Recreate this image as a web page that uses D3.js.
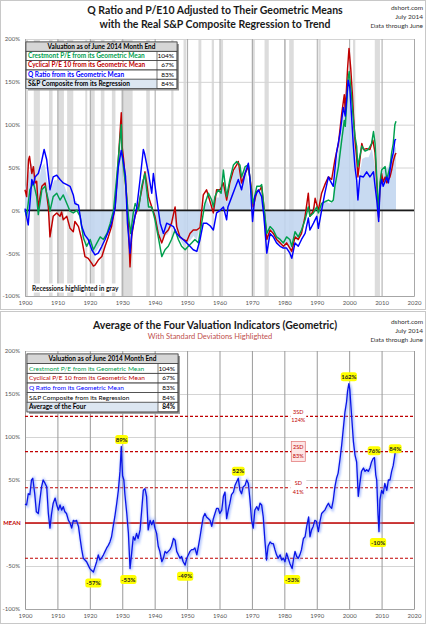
<!DOCTYPE html>
<html>
<head>
<meta charset="utf-8">
<script src="https://cdn.jsdelivr.net/npm/d3@7"></script>
<style>
  body { margin: 0; background: #fff; }
  svg { display: block; font-family: Lato, "Open Sans", sans-serif; }
</style>
</head>
<body>
<svg id="chart" width="430" height="625"></svg>
<script>
// ---- data ----
const xTicks = [1900, 1910, 1920, 1930, 1940, 1950, 1960, 1970, 1980, 1990, 2000, 2010, 2020];
const yTicks = [-100, -50, 0, 50, 100, 150, 200];

const recessions = [[1899.5,1900.9],[1902.7,1904.6],[1907.4,1908.5],[1910.0,1912.0],[1913.0,1914.9],
  [1918.6,1919.2],[1920.0,1921.5],[1923.4,1924.5],[1926.8,1927.9],[1929.6,1933.2],[1937.4,1938.5],
  [1945.1,1945.8],[1948.9,1949.8],[1953.5,1954.4],[1957.6,1958.3],[1960.3,1961.1],[1969.9,1970.9],
  [1973.9,1975.2],[1980.0,1980.5],[1981.5,1982.9],[1990.5,1991.2],[2001.2,2001.9],[2007.9,2009.5]];

// S&P Composite from its regression (light blue area)
const spRegression = [[1900,25],[1901,40],[1902,55],[1903,45],[1904,25],[1905,50],[1906,55],[1907,30],[1908,25],
  [1909,35],[1910,35],[1911,32],[1912,30],[1913,20],[1914,12],[1915,12],[1916,10],[1917,-10],[1918,-35],[1919,-30],
  [1920,-45],[1921,-52],[1922,-48],[1923,-42],[1924,-38],[1925,-30],[1926,-22],[1927,-8],[1928,25],[1929,60],
  [1929.7,80],[1930,45],[1931,10],[1932,-30],[1932.4,-45],[1933,-25],[1934,-5],[1935,10],[1936,35],[1937,40],
  [1938,0],[1939,5],[1940,-10],[1941,-25],[1942,-40],[1943,-30],[1944,-28],[1945,-20],[1946,-10],[1947,-30],
  [1948,-35],[1949,-42],[1950,-38],[1951,-35],[1952,-30],[1953,-35],[1954,-15],[1955,5],[1956,12],[1957,5],
  [1958,0],[1959,15],[1960,15],[1961,35],[1962,10],[1963,25],[1964,40],[1965,50],[1966,50],[1967,40],[1968,50],
  [1969,30],[1970,0],[1971,20],[1972,25],[1973,20],[1974,-30],[1975,-25],[1976,-25],[1977,-32],[1978,-38],
  [1979,-40],[1980,-38],[1981,-42],[1982,-48],[1983,-32],[1984,-36],[1985,-28],[1986,-12],[1987,5],[1988,-3],
  [1989,5],[1990,0],[1991,5],[1992,8],[1993,10],[1994,8],[1995,10],[1995.2,25],[1996,50],[1997,80],[1998,110],
  [1999,135],[2000,145],[2001,100],[2002,65],[2002.7,20],[2003,35],[2004,60],[2005,62],[2006,62],[2007,72],
  [2008,50],[2009,0],[2010,45],[2011,48],[2012,50],[2013,62],[2014.45,75]];

// Cyclical P/E10 (red)
const pe10 = [[1900.0,24],[1900.5,16],[1901.1,59],[1901.4,63],[1902.1,43],[1902.6,51],[1903.1,32],[1903.6,34],
  [1904.1,2],[1904.6,15],[1905.2,28],[1906.2,32],[1907.2,4],[1907.7,-31],[1908.7,-7],[1909.8,-3],[1910.8,-7],
  [1911.3,-2],[1911.8,-11],[1912.9,-7],[1913.9,-21],[1914.9,-25],[1915.4,-13],[1916.5,-19],[1917.5,-34],
  [1918.5,-54],[1919.5,-56],[1920.6,-62],[1921.1,-65],[1921.6,-64],[1922.6,-58],[1923.7,-54],[1924.7,-42],
  [1925.7,-31],[1926.7,-19],[1927.8,4],[1928.8,59],[1929.7,114],[1929.95,75],[1930.4,60],[1931.2,24],[1931.9,-19],
  [1932.4,-66],[1932.9,-30],[1933.9,-7],[1935.0,4],[1936.0,24],[1937.0,45],[1937.6,30],[1938.1,16],[1939.1,4],
  [1940.1,-7],[1941.1,-27],[1942.2,-38],[1943.2,-27],[1944.2,-23],[1945.2,-15],[1946.3,4],[1946.8,-19],
  [1947.8,-31],[1948.8,-34],[1949.9,-36],[1950.9,-27],[1951.9,-23],[1953.0,-23],[1954.0,-20],[1955.0,18],
  [1956.0,24],[1957.1,10],[1958.1,-3],[1959.1,24],[1960.2,24],[1961.2,32],[1962.2,12],[1963.2,32],[1964.3,47],
  [1965.3,53],[1965.8,57],[1966.8,32],[1967.9,43],[1968.9,51],[1969.9,24],[1970.4,4],[1971.5,22],[1972.5,24],
  [1973.0,28],[1973.7,4],[1974.6,-34],[1975.6,-23],[1976.6,-27],[1977.6,-34],[1978.7,-38],[1979.7,-42],
  [1980.7,-38],[1981.7,-44],[1982.3,-48],[1983.3,-31],[1984.3,-34],[1985.3,-27],[1986.4,-7],[1987.4,20],
  [1987.9,-7],[1989.0,0],[1989.5,14],[1990.5,0],[1991.5,20],[1992.5,30],[1993.6,39],[1994.6,36],[1995.6,59],
  [1996.7,78],[1997.7,113],[1998.5,135],[1998.8,115],[1999.5,165],[1999.95,189],[2000.5,165],[2001.0,135],
  [2001.3,113],[2001.8,82],[2002.3,62],[2002.7,39],[2003.3,59],[2003.9,78],[2004.4,71],[2005.4,72],[2006.4,71],
  [2007.3,82],[2008.0,67],[2008.5,32],[2009.1,-8],[2009.5,28],[2010.0,43],[2010.5,33],[2011.1,39],[2011.6,32],
  [2012.6,39],[2013.1,47],[2013.6,57],[2014.1,64],[2014.45,67]];

// Crestmont P/E (green)
const crestmont = [[1900.0,0],[1900.5,-7],[1901.5,24],[1902.6,32],[1903.6,16],[1904.1,-5],[1905.2,24],[1906.2,28],
  [1907.2,12],[1907.7,-1],[1908.7,16],[1909.8,20],[1910.8,12],[1911.8,18],[1912.9,8],[1913.9,-1],[1914.9,-3],
  [1916.0,0],[1917.0,-7],[1918.0,-32],[1919.0,-42],[1920.1,-34],[1921.1,-46],[1922.2,-38],[1923.2,-31],
  [1924.2,-34],[1925.3,-27],[1926.3,-15],[1927.3,0],[1928.3,39],[1929.7,100],[1929.95,65],[1930.4,50],
  [1931.2,24],[1931.9,-7],[1932.6,-27],[1933.4,-3],[1934.0,8],[1935.0,0],[1936.0,28],[1937.0,43],[1938.1,4],
  [1939.1,4],[1940.1,-11],[1941.1,-31],[1942.2,-54],[1943.2,-46],[1944.2,-42],[1945.2,-34],[1946.3,-23],
  [1947.3,-34],[1948.3,-42],[1949.4,-46],[1950.4,-42],[1951.4,-38],[1952.4,-34],[1953.5,-38],[1954.5,-15],
  [1955.5,8],[1956.6,20],[1957.6,12],[1958.1,4],[1958.6,16],[1959.6,24],[1960.5,20],[1961.2,47],[1962.2,16],
  [1963.2,36],[1964.3,53],[1965.3,57],[1966.3,53],[1966.8,39],[1967.9,51],[1968.9,53],[1969.9,20],[1970.4,8],
  [1971.5,28],[1972.5,28],[1973.0,30],[1973.7,4],[1974.6,-27],[1975.6,-19],[1976.6,-23],[1977.6,-31],
  [1978.7,-34],[1979.7,-38],[1980.7,-31],[1981.7,-34],[1982.3,-42],[1983.3,-25],[1984.3,-31],[1985.3,-23],
  [1986.4,-11],[1987.4,4],[1987.9,-7],[1989.0,-3],[1990.0,4],[1990.5,-3],[1991.5,8],[1992.5,10],[1993.6,12],
  [1994.6,10],[1995.1,12],[1995.6,28],[1996.7,51],[1997.7,82],[1998.5,105],[1998.8,98],[1999.7,154],[2000.0,162],
  [2000.6,139],[2001.3,106],[2001.8,86],[2002.3,75],[2002.7,51],[2003.3,63],[2003.9,75],[2004.9,69],[2005.9,71],
  [2006.9,78],[2007.5,92],[2008.0,78],[2008.5,39],[2009.1,-3],[2009.5,32],[2010.0,47],[2011.1,51],[2011.6,36],
  [2012.6,51],[2013.1,67],[2013.6,78],[2014.1,100],[2014.45,104]];

// Q Ratio (blue)
const qRatio = [[1900.0,2],[1901.0,-17],[1902.1,36],[1902.6,30],[1903.1,39],[1904.1,43],[1905.0,55],[1905.9,71],
  [1906.7,59],[1907.7,24],[1908.7,39],[1909.8,41],[1910.8,36],[1911.8,32],[1912.9,30],[1913.9,28],[1914.9,18],
  [1915.4,8],[1916.5,6],[1917.5,-19],[1918.5,-29],[1919.5,-34],[1920.6,-46],[1921.6,-52],[1922.6,-50],
  [1923.7,-42],[1924.7,-34],[1925.7,-25],[1926.7,-15],[1927.8,3],[1928.8,51],[1929.7,70],[1930.3,58],
  [1931.0,40],[1931.6,-15],[1932.4,-50],[1933.0,-25],[1934.5,4],[1935.5,36],[1936.5,71],[1936.9,66],[1938.1,43],
  [1939.1,20],[1939.6,43],[1940.7,12],[1941.7,-15],[1942.7,-27],[1943.7,-15],[1944.8,-17],[1945.8,-19],
  [1946.8,-27],[1947.8,-31],[1948.8,-34],[1949.9,-38],[1950.9,-42],[1951.9,-46],[1953.0,-48],[1954.0,-34],
  [1955.0,-15],[1956.0,-15],[1957.1,-18],[1958.1,-23],[1959.1,-3],[1960.2,0],[1961.2,4],[1962.2,-11],[1962.6,4],
  [1963.8,16],[1964.8,26],[1965.8,36],[1966.8,24],[1967.9,43],[1968.9,55],[1969.4,36],[1970.2,-13],[1970.9,16],
  [1972.0,24],[1973.0,16],[1973.7,-7],[1974.6,-50],[1975.6,-27],[1976.6,-31],[1977.6,-38],[1978.7,-42],
  [1979.7,-44],[1980.7,-44],[1981.7,-50],[1982.3,-56],[1983.3,-38],[1984.3,-42],[1985.3,-34],[1986.4,-27],
  [1987.4,-9],[1987.9,-23],[1989.0,-15],[1990.0,-7],[1990.5,-21],[1991.5,0],[1992.5,20],[1993.6,39],[1994.1,35],
  [1995.1,28],[1996.1,67],[1997.2,90],[1998.2,120],[1998.8,110],[1999.7,152],[2000.2,143],[2000.8,106],
  [2001.3,75],[2001.8,50],[2002.3,36],[2002.7,12],[2003.3,40],[2004.4,39],[2005.4,45],[2006.4,39],[2007.5,45],
  [2008.0,28],[2008.5,12],[2009.1,-13],[2009.5,24],[2010.0,36],[2010.5,28],[2011.6,39],[2012.1,32],[2012.6,47],
  [2013.1,59],[2013.6,67],[2014.1,82],[2014.45,83]];

// Average of the four (bottom chart)
const average = [[1900.0,22],[1900.5,21],[1901.0,34],[1901.5,33],[1902.0,50],[1902.4,52],[1903.0,34],[1903.5,13],
  [1904.1,11],[1904.6,27],[1905.1,42],[1905.6,50],[1906.2,46],[1906.7,42],[1907.2,11],[1907.7,-6],[1908.2,11],
  [1908.7,23],[1909.3,29],[1909.8,21],[1910.3,15],[1910.8,21],[1911.3,15],[1911.8,19],[1912.3,13],[1912.8,11],
  [1913.4,3],[1913.9,0],[1914.4,-6],[1914.9,3],[1915.4,2],[1915.9,3],[1916.5,-4],[1917.0,-18],[1917.5,-31],
  [1918.0,-41],[1918.5,-43],[1919.0,-45],[1919.5,-49],[1920.0,-53],[1920.5,-55],[1921.1,-57],[1921.6,-51],
  [1922.1,-45],[1922.6,-37],[1923.1,-43],[1923.6,-41],[1924.2,-37],[1924.7,-33],[1925.2,-29],[1925.7,-26],
  [1926.2,-22],[1926.7,-16],[1927.2,-4],[1927.7,7],[1928.3,23],[1928.8,38],[1929.3,60],[1929.7,89],[1929.9,70],
  [1930.1,55],[1930.5,50],[1930.8,34],[1931.4,11],[1931.9,-12],[1932.4,-53],[1932.9,-35],[1933.4,-16],
  [1933.9,-20],[1934.4,-12],[1934.9,-18],[1935.5,-8],[1936.0,15],[1936.5,38],[1937.0,40],[1937.5,31],
  [1938.0,-8],[1938.6,3],[1939.1,-2],[1939.6,3],[1940.1,-6],[1940.6,-12],[1941.1,-27],[1941.6,-33],[1942.2,-45],
  [1942.7,-41],[1943.2,-33],[1943.7,-35],[1944.2,-33],[1944.7,-31],[1945.2,-27],[1945.8,-18],[1946.3,-20],
  [1946.8,-33],[1947.3,-37],[1947.8,-41],[1948.3,-39],[1948.8,-45],[1949.4,-49],[1949.9,-41],[1950.4,-37],
  [1950.9,-33],[1951.4,-31],[1951.9,-31],[1952.4,-29],[1953.0,-37],[1953.5,-27],[1954.0,-16],[1954.5,-4],
  [1955.0,7],[1955.5,11],[1956.0,7],[1956.6,5],[1957.1,3],[1957.6,-4],[1958.1,5],[1958.6,11],[1959.1,17],
  [1959.6,17],[1960.1,11],[1960.7,15],[1961.2,31],[1961.7,36],[1962.2,5],[1962.7,15],[1963.2,23],[1963.7,33],
  [1964.3,36],[1964.8,44],[1965.3,48],[1965.8,52],[1966.3,38],[1966.8,34],[1967.3,42],[1967.9,44],[1968.4,50],
  [1968.9,46],[1969.4,27],[1969.9,3],[1970.4,-6],[1970.9,15],[1971.5,19],[1972.0,15],[1972.5,23],[1973.0,21],
  [1973.5,7],[1974.0,-20],[1974.5,-43],[1975.0,-27],[1975.6,-22],[1976.1,-24],[1976.6,-24],[1977.1,-31],
  [1977.6,-37],[1978.1,-41],[1978.7,-37],[1979.2,-43],[1979.7,-41],[1980.2,-45],[1980.7,-35],[1981.2,-41],
  [1981.7,-47],[1982.4,-53],[1982.8,-43],[1983.3,-33],[1983.8,-39],[1984.3,-41],[1984.8,-37],[1985.3,-31],
  [1985.9,-18],[1986.4,-16],[1986.9,-4],[1987.5,7],[1987.9,-16],[1988.4,-8],[1988.9,-4],[1989.4,3],[1989.9,2],
  [1990.5,-10],[1991.0,2],[1991.5,11],[1992.0,13],[1992.5,15],[1993.0,19],[1993.6,23],[1994.1,19],[1994.6,17],
  [1995.1,27],[1995.6,42],[1996.1,52],[1996.6,58],[1997.2,75],[1997.7,91],[1998.2,110],[1998.7,129],
  [1999.2,141],[1999.5,153],[1999.9,162],[2000.2,155],[2000.8,122],[2001.3,95],[2001.8,79],[2002.3,71],
  [2002.6,48],[2002.8,31],[2003.3,46],[2003.8,60],[2004.4,64],[2004.9,60],[2005.4,62],[2005.9,60],[2006.4,64],
  [2006.9,71],[2007.4,75],[2007.8,76],[2008.2,56],[2008.5,50],[2008.9,10],[2009.2,-10],[2009.5,27],[2010.0,38],
  [2010.5,34],[2011.0,46],[2011.6,38],[2012.1,50],[2012.6,50],[2013.1,60],[2013.6,67],[2014.2,82],[2014.45,84]];

const tableLabels = ["Crestmont P/E from its Geometric Mean", "Cyclical P/E 10 from its Geometric Mean",
  "Q Ratio from its Geometric Mean", "S&P Composite from its Regression"];
const tableValues = ["104%", "67%", "83%", "84%"];
const averageRow = ["Average of the Four", "84%"];

const sdLevels = [41, 83, 124];
const sdNames = ["SD", "2SD", "3SD"];
const peakLabels = [[1929.8, 89, "89%"], [1965.8, 52, "52%"], [1999.9, 162, "162%"], [2007.7, 76, "76%"]];
const troughLabels = [[1921.1, -57, "-57%"], [1931.9, -53, "-53%"], [1949.4, -49, "-49%"], [1982.4, -53, "-53%"], [2008.9, -10, "-10%"]];
const lastLabel = [2014.2, 84, "84%"];

// ---- layout ----
const svg = d3.select("#chart");
const RED = "#c00000", GREEN = "#00a04e", BLUE = "#0000ff";
const rowColors = [GREEN, RED, BLUE, "#000"];

const x = d3.scaleLinear().domain([1900, 2020]).range([25, 414]);
const yTop = d3.scaleLinear().domain([-100, 200]).range([296, 39]);
const yBot = d3.scaleLinear().domain([-100, 200]).range([609, 351]);

// panel frames
svg.append("rect").attr("x", 0.5).attr("y", 0.5).attr("width", 425).attr("height", 309)
  .attr("fill", "none").attr("stroke", "#c8c8c8");
svg.append("rect").attr("x", 0.5).attr("y", 311.5).attr("width", 425).attr("height", 312)
  .attr("fill", "none").attr("stroke", "#c8c8c8");

function credits(y0) {
  ["dshort.com", "July 2014", "Data through June"].forEach((t, i) => {
    svg.append("text").attr("x", 423).attr("y", y0 + i * 9).attr("text-anchor", "end")
      .attr("font-size", 6.5).attr("fill", "#333").text(t);
  });
}

function grid(y, vColor, zeroLabel) {
  const g = svg.append("g");
  g.append("g").attr("transform", `translate(${x(1900)},0)`)
    .call(d3.axisLeft(y).tickValues(yTicks).tickFormat(d => (d === 0 && !zeroLabel) ? "" : d + "%")
      .tickSize(-(x(2020) - x(1900))).tickPadding(5))
    .call(a => a.select(".domain").remove())
    .call(a => a.selectAll("line").attr("stroke", "#d4d4d4"))
    .call(a => a.selectAll("text").attr("font-size", 6).attr("fill", "#555").attr("font-family", "Lato, sans-serif"));
  g.append("g").attr("transform", `translate(0,${y(-100)})`)
    .call(d3.axisBottom(x).tickValues(xTicks).tickFormat(d3.format("d")).tickSize(-(y(-100) - y(200))).tickPadding(5))
    .call(a => a.select(".domain").attr("stroke", "#a6a6a6"))
    .call(a => a.selectAll("line").attr("stroke", vColor))
    .call(a => a.selectAll("text").attr("font-size", 6).attr("fill", "#555").attr("font-family", "Lato, sans-serif"));
}

function table(x0, y0, rowH, rows) {
  const w = 151, vx = 131;
  const h = rowH * (rows.length + 1);
  const g = svg.append("g");
  g.append("rect").attr("x", x0 + 2).attr("y", y0 + 2).attr("width", w).attr("height", h).attr("fill", "#9a9a9a");
  g.append("rect").attr("x", x0).attr("y", y0).attr("width", w).attr("height", h).attr("fill", "#fff").attr("stroke", "#444").attr("stroke-width", 0.7);
  g.append("rect").attr("x", x0).attr("y", y0).attr("width", w).attr("height", rowH).attr("fill", "#d6d6d6").attr("stroke", "#444").attr("stroke-width", 0.7);
  g.append("text").attr("x", x0 + w / 2).attr("y", y0 + rowH - 2.6).attr("text-anchor", "middle")
    .attr("font-size", 6.5).attr("font-weight", "bold").text("Valuation as of June 2014 Month End");
  rows.forEach((r, i) => {
    const yy = y0 + rowH * (i + 1);
    if (i === rows.length - 1) {
      g.append("rect").attr("x", x0).attr("y", yy).attr("width", vx).attr("height", rowH).attr("fill", "#dce6f1");
    }
    g.append("rect").attr("x", x0).attr("y", yy).attr("width", w).attr("height", rowH)
      .attr("fill", "none").attr("stroke", "#444").attr("stroke-width", 0.7);
    g.append("line").attr("x1", x0 + vx).attr("x2", x0 + vx).attr("y1", yy).attr("y2", yy + rowH).attr("stroke", "#444").attr("stroke-width", 0.7);
    g.append("text").attr("x", x0 + 2).attr("y", yy + rowH - 2.6).attr("font-size", 6.5)
      .attr("font-weight", r.bold ? "bold" : "normal").attr("fill", r.color).text(r.label);
    g.append("text").attr("x", x0 + w - 3).attr("y", yy + rowH - 2.6).attr("text-anchor", "end").attr("font-size", 6.5)
      .attr("font-weight", r.boldValue ? "bold" : "normal").attr("fill", "#000").text(r.value);
  });
}

// ================= TOP CHART =================
["Q Ratio and P/E10 Adjusted to Their Geometric Means", "with the Real S&P Composite Regression to Trend"].forEach((t, i) => {
  svg.append("text").attr("x", 215).attr("y", 13.5 + i * 14).attr("text-anchor", "middle")
    .attr("font-size", 10.5).attr("font-weight", "bold").attr("fill", "#1a1a1a").text(t);
});
credits(9.5);

const topG = svg.append("g");
topG.selectAll("rect.rec").data(recessions).enter().append("rect").attr("class", "rec")
  .attr("x", d => x(Math.max(d[0], 1900))).attr("width", d => x(d[1]) - x(Math.max(d[0], 1900)))
  .attr("y", yTop(200)).attr("height", yTop(-100) - yTop(200)).attr("fill", "#dcdcdc");
grid(yTop, "#a8a8a8", true);

const topData = svg.append("g");
topData.append("path").datum(spRegression)
  .attr("d", d3.area().x(d => x(d[0])).y0(yTop(0)).y1(d => yTop(d[1])))
  .attr("fill", "#c2d6ef").attr("opacity", 0.9);
topData.append("line").attr("x1", x(1900)).attr("x2", x(2020)).attr("y1", yTop(0)).attr("y2", yTop(0))
  .attr("stroke", "#1a1a1a").attr("stroke-width", 1.6);

const lineTop = d3.line().x(d => x(d[0])).y(d => yTop(d[1]));
[[pe10, RED], [crestmont, GREEN], [qRatio, BLUE]].forEach(([s, c]) => {
  topData.append("path").datum(s).attr("d", lineTop).attr("fill", "none").attr("stroke", c)
    .attr("stroke-width", 1.45).attr("stroke-linejoin", "round");
});

table(26, 42, 9.3, tableLabels.map((l, i) => ({ label: l, value: tableValues[i], color: rowColors[i], bold: true })));

topData.append("rect").attr("x", 30).attr("y", 283.5).attr("width", 90).attr("height", 9).attr("fill", "#fff");
topData.append("text").attr("x", 32).attr("y", 290.5).attr("font-size", 6.5).attr("font-weight", "bold")
  .attr("fill", "#111").text("Recessions highlighted in gray");

// ================= BOTTOM CHART =================
svg.append("text").attr("x", 215).attr("y", 328.5).attr("text-anchor", "middle").attr("font-size", 10.5)
  .attr("font-weight", "bold").attr("fill", "#1a1a1a").text("Average of the Four Valuation Indicators (Geometric)");
svg.append("text").attr("x", 210).attr("y", 339).attr("text-anchor", "middle").attr("font-size", 7.5)
  .attr("fill", "#c0504d").text("With Standard Deviations Highlighted");
credits(323.5);

grid(yBot, "#9a9a9a", false);
const bot = svg.append("g");

// mean and SD lines
bot.append("line").attr("x1", x(1900)).attr("x2", x(2020)).attr("y1", yBot(0)).attr("y2", yBot(0))
  .attr("stroke", RED).attr("stroke-width", 1.6);
sdLevels.concat([-sdLevels[0]]).forEach(v => {
  bot.append("line").attr("x1", x(1900)).attr("x2", x(2020)).attr("y1", yBot(v)).attr("y2", yBot(v))
    .attr("stroke", RED).attr("stroke-width", 1.2).attr("stroke-dasharray", "3,2");
});
bot.append("text").attr("x", 12).attr("y", yBot(0) + 2).attr("text-anchor", "middle").attr("font-size", 5.8)
  .attr("font-weight", "bold").attr("fill", RED).text("MEAN");

// glow + line
const defs = svg.append("defs");
defs.append("filter").attr("id", "blur").append("feGaussianBlur").attr("stdDeviation", 1.1);
const lineBot = d3.line().x(d => x(d[0])).y(d => yBot(d[1]));
bot.append("path").datum(average).attr("d", lineBot).attr("fill", "none").attr("stroke", "#7f9fff")
  .attr("stroke-width", 3).attr("opacity", 0.6).attr("filter", "url(#blur)").attr("transform", "translate(0.8,1)");
bot.append("path").datum(average).attr("d", lineBot).attr("fill", "none").attr("stroke", "#0a14e6")
  .attr("stroke-width", 1.3).attr("stroke-linejoin", "round");

// SD labels
const sdX = x(1984.3);
sdLevels.forEach((v, i) => {
  const yy = yBot(v);
  if (sdNames[i] === "2SD") {
    bot.append("rect").attr("x", sdX - 7).attr("y", yy - 10).attr("width", 14).attr("height", 20)
      .attr("fill", "#fde6e6").attr("stroke", "#e07070").attr("stroke-width", 0.7);
  } else {
    bot.append("rect").attr("x", sdX - 8).attr("y", yy - 9).attr("width", 16).attr("height", 17).attr("fill", "#fff");
  }
  bot.append("text").attr("x", sdX).attr("y", yy - 2.5).attr("text-anchor", "middle").attr("font-size", 5.5)
    .attr("fill", RED).text(sdNames[i]);
  bot.append("text").attr("x", sdX).attr("y", yy + 6).attr("text-anchor", "middle").attr("font-size", 5.5)
    .attr("fill", RED).text(v + "%");
});

// yellow callouts
function callout(yr, v, t, dy) {
  const cx = x(yr), cy = yBot(v) + dy;
  const w = t.length * 3.3 + 3;
  bot.append("rect").attr("x", cx - w / 2).attr("y", cy - 4.5).attr("width", w).attr("height", 9)
    .attr("rx", 2.5).attr("fill", "#ffff00");
  bot.append("text").attr("x", cx).attr("y", cy + 2.2).attr("text-anchor", "middle").attr("font-size", 6)
    .attr("font-weight", "bold").attr("fill", "#222").text(t);
}
peakLabels.forEach(d => callout(d[0], d[1], d[2], -7));
troughLabels.forEach(d => callout(d[0], d[1], d[2], 11));
callout(lastLabel[0], lastLabel[1], lastLabel[2], -2);

table(27, 354, 9.65, tableLabels.map((l, i) => ({ label: l, value: tableValues[i], color: rowColors[i], bold: false }))
  .concat([{ label: averageRow[0], value: averageRow[1], color: "#000", bold: true, boldValue: true }]));
</script>
</body>
</html>
